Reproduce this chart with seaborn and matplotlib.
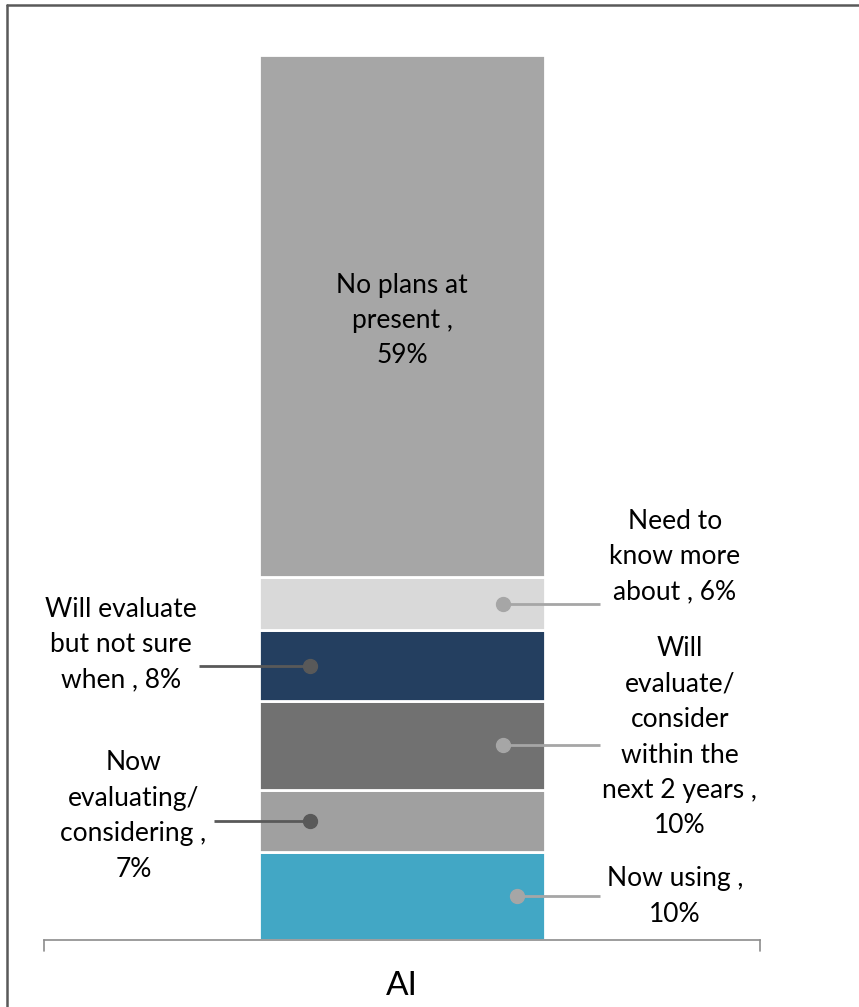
import matplotlib
matplotlib.use('Agg')
import matplotlib.pyplot as plt
import seaborn as sns

category = 'AI'
segments = ['Now using', 'Now evaluating/ considering', 'Will evaluate/ consider within the next 2 years',
            'Will evaluate but not sure when', 'Need to know more about', 'No plans at present']
values = [10, 7, 10, 8, 6, 59]
labels = ['Now using ,\n10%', 'Now\nevaluating/\nconsidering ,\n7%',
          'Will\nevaluate/\nconsider\nwithin the\nnext 2 years ,\n10%',
          'Will evaluate\nbut not sure\nwhen , 8%', 'Need to\nknow more\nabout , 6%',
          'No plans at\npresent ,\n59%']
colors = ['#42A7C5', '#A0A0A0', '#717171', '#243F60', '#D9D9D9', '#A6A6A6']
dot_colors = ['#A6A6A6', '#595959', '#A6A6A6', '#595959', '#A6A6A6', None]

sns.set_style('white')
plt.rcParams['font.family'] = ['Lato', 'DejaVu Sans']

W, H = 859, 1007
fig = plt.figure(figsize=(W / 100, H / 100), dpi=100)
ax = fig.add_axes([44 / W, (H - 940) / H, 716 / W, 885 / H])

bottom = 0
for seg, val, col in zip(segments, values, colors):
    sns.barplot(x=[category], y=[val], bottom=bottom, color=col, width=0.4, saturation=1,
                edgecolor='white', linewidth=2, ax=ax)
    bottom += val

ax.set_xlim(-0.5, 0.5)
ax.set_ylim(0, 100)
ax.set_yticks([])
ax.set_xticks([])
ax.set_xlabel('')
ax.set_ylabel('')
for s in ['top', 'right', 'left']:
    ax.spines[s].set_visible(False)
ax.spines['bottom'].set_color('#8C8C8C')
ax.spines['bottom'].set_linewidth(1.2)
# end ticks of the category axis
for xe in [-0.5, 0.5]:
    ax.plot([xe, xe], [0, -1.2], color='#8C8C8C', lw=1.2, clip_on=False)
ax.text(0, -5.2, category, ha='center', va='center', fontsize=24, color='black')

# label placement: (dot x, line end x, text x, text y)
place = [
    (0.16, 0.276, 0.381, 4.9),
    (-0.128, -0.262, -0.375, 14.0),
    (0.141, 0.276, 0.388, 22.9),
    (-0.128, -0.283, -0.392, 33.4),
    (0.141, 0.276, 0.381, 43.3),
]
cum = 0
for i, val in enumerate(values):
    mid = cum + val / 2
    cum += val
    if i < len(place):
        dx, lx, tx, ty = place[i]
        ax.plot([dx, lx], [mid, mid], color=dot_colors[i], lw=2, solid_capstyle='butt')
        ax.plot([dx], [mid], 'o', color=dot_colors[i], ms=10)
        ax.text(tx, ty, labels[i], ha='center', va='center', fontsize=19,
                linespacing=1.52, color='black')
    else:
        ax.text(0, 70, labels[i], ha='center', va='center', fontsize=19,
                linespacing=1.52, color='black')

# chart frame (left and top edges visible)
fig.add_artist(plt.Line2D([6.5 / W, 6.5 / W], [0, 1 - 5 / H], color='#595959', lw=1.8))
fig.add_artist(plt.Line2D([6.5 / W, 1], [1 - 5 / H, 1 - 5 / H], color='#595959', lw=1.8))

fig.savefig('out.png', dpi=100)
